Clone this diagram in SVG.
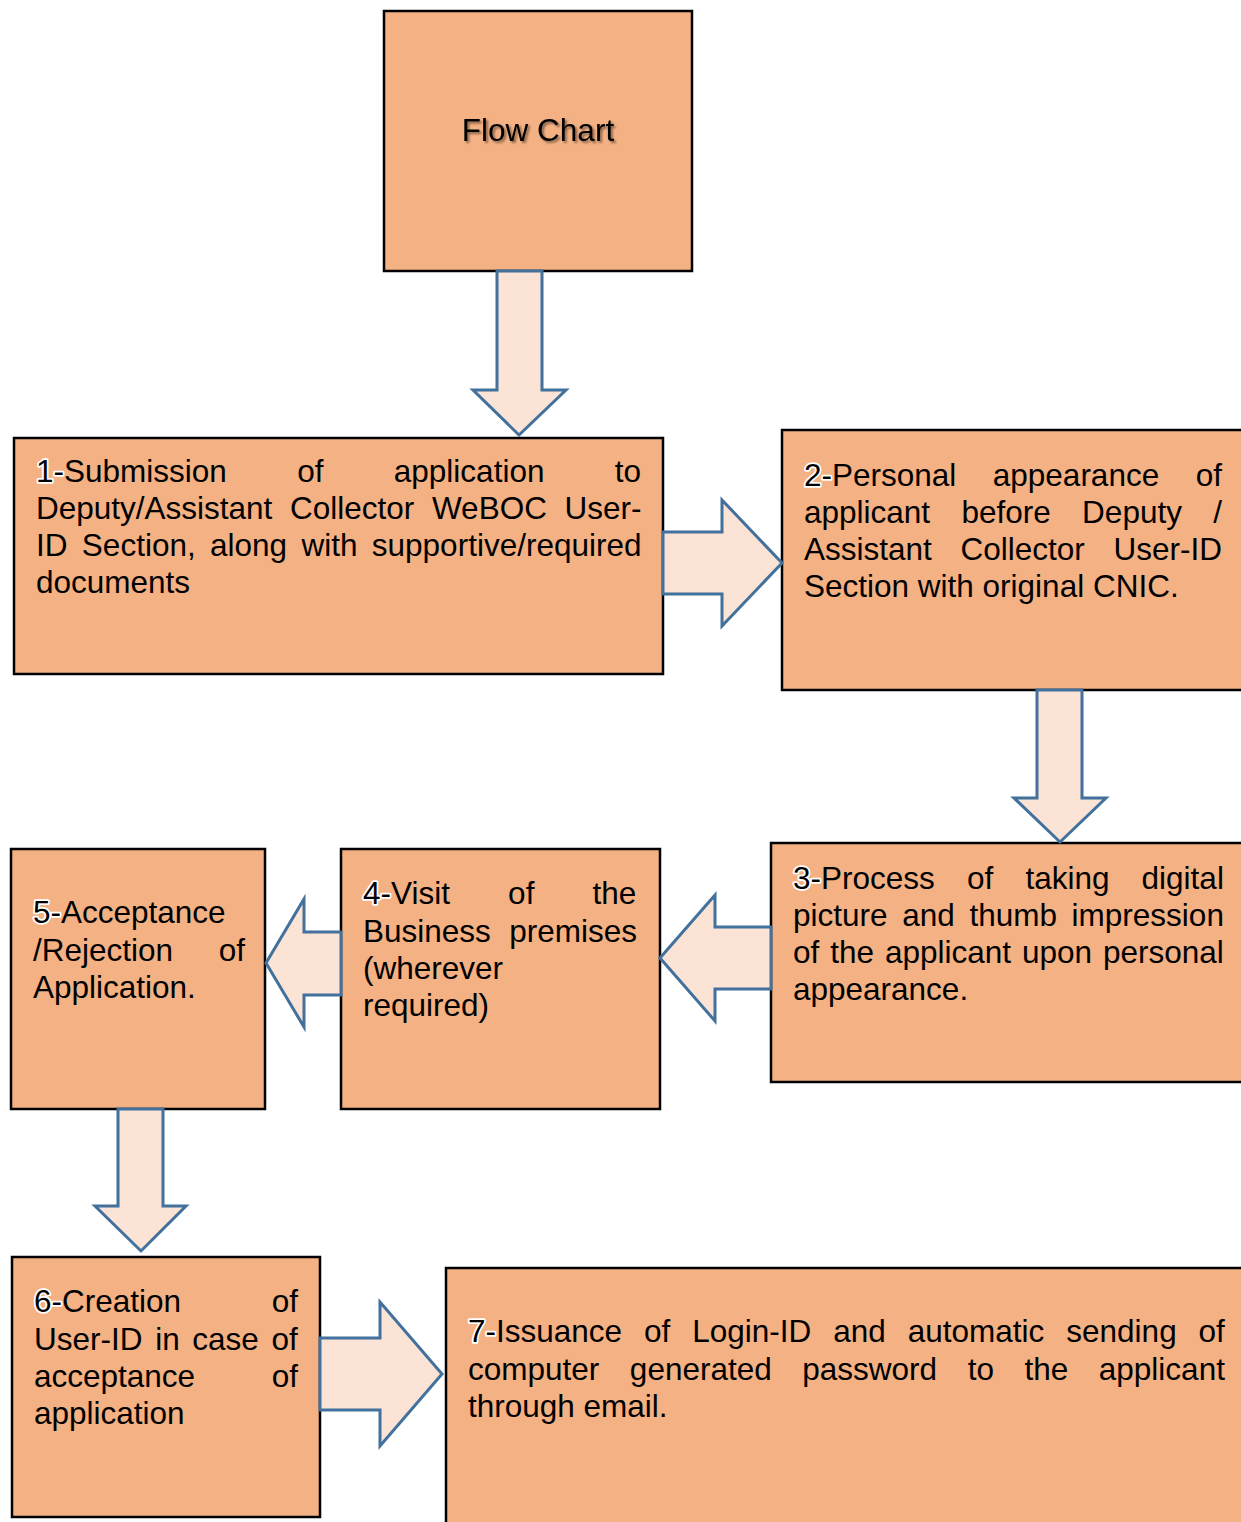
<svg xmlns="http://www.w3.org/2000/svg" width="1241" height="1522" viewBox="0 0 1241 1522">
<style>
.box{fill:#F4B183;stroke:#000;stroke-width:2.5}
.arr{fill:#FBE3D5;stroke:#41719C;stroke-width:3;stroke-linejoin:miter}
text{font-family:"Liberation Sans",Arial,sans-serif;font-size:31.5px;fill:#000}
.n{stroke:#fff;stroke-width:3.5;paint-order:stroke;stroke-linejoin:round}
</style>
<defs>
<filter id="sh" x="-10%" y="-30%" width="120%" height="160%">
<feDropShadow dx="2" dy="2" stdDeviation="1.2" flood-color="#000" flood-opacity="0.45"/>
</filter>
</defs>
<rect width="1241" height="1522" fill="#fff"/>
<g id="node-title">
<rect class="box" x="384" y="11" width="308" height="260"/>
<text x="538" y="141" text-anchor="middle" filter="url(#sh)">Flow Chart</text>
</g>
<g id="node-1">
<rect class="box" x="14" y="438" width="649" height="236"/>
<text x="36" y="482" word-spacing="61.6"><tspan class="n">1-</tspan>Submission of application to</text>
<text x="36" y="519" word-spacing="8.9">Deputy/Assistant Collector WeBOC User-</text>
<text x="36" y="556" word-spacing="5.6">ID Section, along with supportive/required</text>
<text x="36" y="593">documents</text>
</g>
<g id="node-2">
<rect class="box" x="782" y="430" width="470" height="260"/>
<text x="804" y="486" word-spacing="27.7"><tspan class="n">2-</tspan>Personal appearance of</text>
<text x="804" y="523" word-spacing="22.6">applicant before Deputy /</text>
<text x="804" y="560" word-spacing="20">Assistant Collector User-ID</text>
<text x="804" y="597">Section with original CNIC.</text>
</g>
<g id="node-3">
<rect class="box" x="771" y="843" width="480" height="239"/>
<text x="793" y="889" word-spacing="23.4"><tspan class="n">3-</tspan>Process of taking digital</text>
<text x="793" y="926" word-spacing="5.9">picture and thumb impression</text>
<text x="793" y="963" word-spacing="2.2">of the applicant upon personal</text>
<text x="793" y="1000">appearance.</text>
</g>
<g id="node-4">
<rect class="box" x="341" y="849" width="319" height="260"/>
<text x="363" y="904" word-spacing="49.4"><tspan class="n">4-</tspan>Visit of the</text>
<text x="363" y="942" word-spacing="9.6">Business premises</text>
<text x="363" y="979">(wherever</text>
<text x="363" y="1016">required)</text>
</g>
<g id="node-5">
<rect class="box" x="11" y="849" width="254" height="260"/>
<text x="33" y="923"><tspan class="n">5-</tspan>Acceptance</text>
<text x="33" y="961" word-spacing="36.9">/Rejection of</text>
<text x="33" y="998">Application.</text>
</g>
<g id="node-6">
<rect class="box" x="12" y="1257" width="308" height="260"/>
<text x="34" y="1312" word-spacing="81.9"><tspan class="n">6-</tspan>Creation of</text>
<text x="34" y="1350" word-spacing="3.9">User-ID in case of</text>
<text x="34" y="1387" word-spacing="67.8">acceptance of</text>
<text x="34" y="1424">application</text>
</g>
<g id="node-7">
<rect class="box" x="446" y="1268" width="810" height="270"/>
<text x="468" y="1342" word-spacing="13.2"><tspan class="n">7-</tspan>Issuance of Login-ID and automatic sending of</text>
<text x="468" y="1380" word-spacing="21.8">computer generated password to the applicant</text>
<text x="468" y="1417">through email.</text>
</g>
<g id="connectors">
<polygon class="arr" points="497,271 542,271 542,390 566,390 519,435 473,390 497,390"/>
<polygon class="arr" points="663,532 722,532 722,500 782,563 722,626 722,594 663,594"/>
<polygon class="arr" points="1037,690 1082,690 1082,798 1106,798 1060,842 1014,798 1037,798"/>
<polygon class="arr" points="771,927 715,927 715,895 660,958 715,1021 715,989 771,989"/>
<polygon class="arr" points="341,932 304,932 304,899 266,963 304,1027 304,995 341,995"/>
<polygon class="arr" points="118,1109 163,1109 163,1206 186,1206 141,1251 95,1206 118,1206"/>
<polygon class="arr" points="320,1338 380,1338 380,1302 442,1374 380,1446 380,1410 320,1410"/>
</g>
</svg>
